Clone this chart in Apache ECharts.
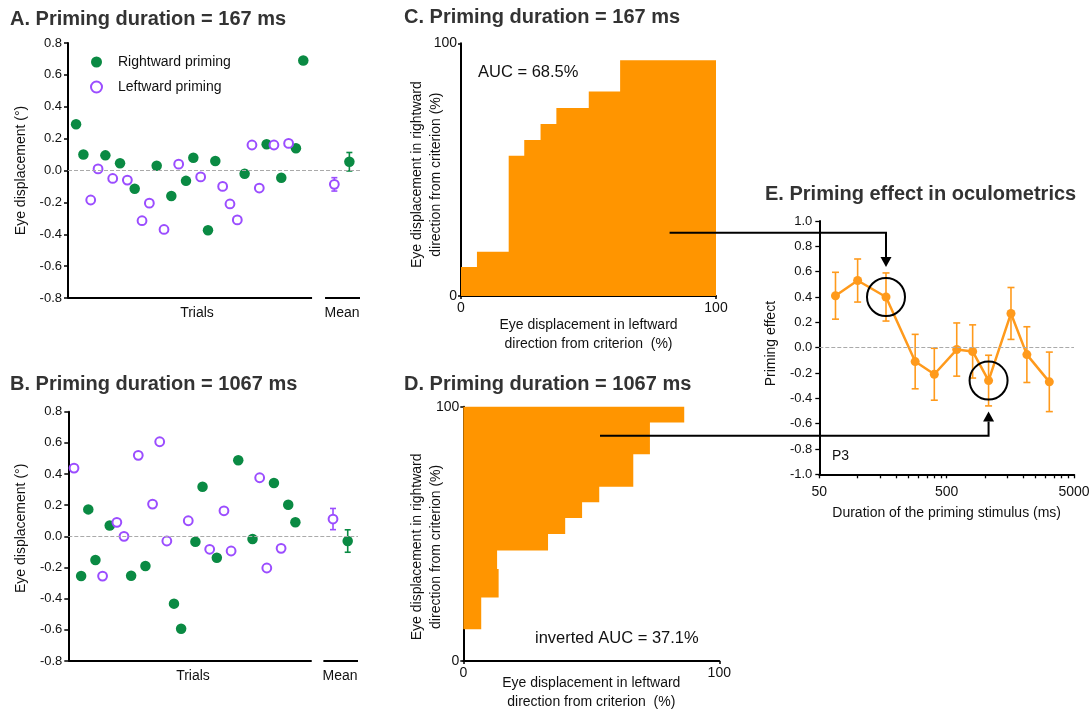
<!DOCTYPE html>
<html>
<head>
<meta charset="utf-8">
<script src="https://cdn.jsdelivr.net/npm/echarts@6/dist/echarts.min.js"></script>
<style>
  html, body { margin: 0; padding: 0; background: #ffffff; }
  #chart { width: 1091px; height: 711px; }
</style>
</head>
<body>
<div id="chart"></div>
<script>
// ---------------- Data ----------------
// A: single-trial eye displacement (deg), 167 ms priming
const trialsA_right = [0, 1, 4, 6, 8, 11, 13, 15, 16, 18, 19, 23, 26, 28, 30, 31];
const valuesA_right = [0.29, 0.10, 0.095, 0.045, -0.115, 0.03, -0.16, -0.065, 0.08, -0.375, 0.06, -0.02, 0.165, -0.045, 0.14, 0.69];
const trialsA_left = [2, 3, 5, 7, 9, 10, 12, 14, 17, 20, 21, 22, 24, 25, 27, 29];
const valuesA_left = [-0.185, 0.01, -0.05, -0.06, -0.315, -0.205, -0.37, 0.04, -0.04, -0.10, -0.21, -0.31, 0.16, -0.11, 0.16, 0.17];
const meanA = { left: -0.087, right: 0.055 };
const semA = { left: 0.042, right: 0.058 };

// B: single-trial eye displacement (deg), 1067 ms priming
const trialsB_right = [1, 2, 3, 5, 8, 10, 14, 15, 17, 18, 20, 23, 25, 28, 30, 31];
const valuesB_right = [-0.255, 0.173, -0.152, 0.07, -0.253, -0.19, -0.432, -0.593, -0.035, 0.318, -0.137, 0.488, -0.017, 0.342, 0.203, 0.09];
const trialsB_left = [0, 4, 6, 7, 9, 11, 12, 13, 16, 19, 21, 22, 26, 27, 29];
const valuesB_left = [0.438, -0.255, 0.09, 0.0, 0.52, 0.207, 0.607, -0.03, 0.10, -0.083, 0.164, -0.094, 0.376, -0.203, -0.077];
const meanB = { left: 0.111, right: -0.030 };
const semB = { left: 0.068, right: 0.072 };

// C: ROC steps, 167 ms (leftward % where each step starts, rightward % of that step)
const rocC_x = [0, 6.25, 18.7, 24.8, 31.2, 37.4, 50.1, 62.4, 100];
const rocC_y = [11.5, 17.5, 55.5, 61.7, 68.1, 74.4, 80.9, 93.3, 93.3];
const aucC = '68.5%';

// D: ROC steps, 1067 ms (rightward % band edges, leftward % reached in each band)
const rocD_yEdges = [12.5, 25.0, 36.2, 43.5, 49.9, 56.2, 62.4, 68.5, 81.3, 93.8, 100];
const rocD_x = [7.0, 13.8, 13.2, 33.1, 39.8, 46.4, 53.1, 66.4, 72.9, 86.3];
const aucD = '37.1%';

// E: priming effect vs. priming duration (ms)
const durationE = [67, 100, 167, 283, 400, 600, 800, 1067, 1600, 2133, 3200];
const effectE = [0.41, 0.53, 0.40, -0.11, -0.21, -0.015, -0.03, -0.26, 0.27, -0.055, -0.27];
const semE = [0.185, 0.17, 0.19, 0.215, 0.205, 0.21, 0.21, 0.20, 0.205, 0.22, 0.235];
const ticksE_major = [50, 500, 5000];
const ticksE_all = [50, 100, 150, 200, 250, 300, 350, 400, 450, 500,
  1000, 1500, 2000, 2500, 3000, 3500, 4000, 4500, 5000];

// ---------------- Styling ----------------
const FONT = '"Liberation Sans", Arial, Helvetica, sans-serif';
const GREEN = '#0a8a43';
const PURPLE = '#9b4dff';
const ORANGE = '#ff9500';
const ORANGE_E = '#ff9a1c';
const INK = '#111111';

// Layout of the trial panels (axis units)
const layoutA = { xMin: -1.1, xMax: 38.74, trialEnd: 32.2, meanLine: [33.97, 38.74], meanPos: { left: 35.24, right: 37.29 } };
const layoutB = { xMin: -0.8, xMax: 39.77, trialEnd: 33.29, meanLine: [34.92, 39.77], meanPos: { left: 36.27, right: 38.33 } };

const zip = (xs, ys) => xs.map((x, i) => [x, ys[i]]);

function errorBar(cap) {
  return function (params, api) {
    const x = api.value(0);
    const lo = api.coord([x, api.value(1)]);
    const hi = api.coord([x, api.value(2)]);
    const style = { stroke: api.visual('color'), lineWidth: 1.6 };
    return {
      type: 'group',
      children: [
        { type: 'line', shape: { x1: lo[0], y1: lo[1], x2: hi[0], y2: hi[1] }, style },
        { type: 'line', shape: { x1: lo[0] - cap, y1: lo[1], x2: lo[0] + cap, y2: lo[1] }, style },
        { type: 'line', shape: { x1: hi[0] - cap, y1: hi[1], x2: hi[0] + cap, y2: hi[1] }, style }
      ]
    };
  };
}

function hiddenX(gridIndex, min, max) {
  return {
    gridIndex, type: 'value', min, max,
    axisLine: { show: false }, axisTick: { show: false },
    axisLabel: { show: false }, splitLine: { show: false }
  };
}

function eyeY(gridIndex, namePad) {
  return {
    gridIndex, type: 'value', min: -0.8, max: 0.8, interval: 0.2,
    name: 'Eye displacement (°)', nameLocation: 'middle', nameGap: 40,
    nameTextStyle: { color: INK, fontSize: 14, fontFamily: FONT, padding: namePad },
    axisLine: { show: true, onZero: false, lineStyle: { color: '#000', width: 2 } },
    axisTick: { show: true, length: 4, lineStyle: { color: '#000', width: 1.5 } },
    axisLabel: { color: INK, fontSize: 13, fontFamily: FONT, margin: 6, formatter: v => v.toFixed(1) },
    splitLine: { show: false }
  };
}

function rocAxis(gridIndex, isX, name, nameGap, namePad, freeName) {
  const axis = {
    gridIndex, type: 'value', min: 0, max: 100, interval: 100,
    name, nameLocation: 'middle', nameGap,
    nameTextStyle: { color: INK, fontSize: 14, fontFamily: FONT, lineHeight: 19, padding: namePad },
    axisLine: { show: true, onZero: false, lineStyle: { color: '#000', width: 2 } },
    axisTick: { show: true, length: 3, lineStyle: { color: '#000', width: 1.5 } },
    axisLabel: { color: INK, fontSize: 14, fontFamily: FONT, margin: isX ? 5 : 4 },
    splitLine: { show: false }
  };
  if (freeName) axis.nameMoveOverlap = false;
  return axis;
}

function bottomLines(layout) {
  const solid = { color: '#000', width: 2, type: 'solid' };
  return {
    silent: true, symbol: ['none', 'none'], label: { show: false },
    data: [
      { yAxis: 0, lineStyle: { color: '#aaaaaa', width: 1, type: 'dashed' } },
      [{ coord: [layout.xMin, -0.8], lineStyle: solid }, { coord: [layout.trialEnd, -0.8] }],
      [{ coord: [layout.meanLine[0], -0.8], lineStyle: solid }, { coord: [layout.meanLine[1], -0.8] }]
    ]
  };
}

const openStyle = { color: '#ffffff', borderColor: PURPLE, borderWidth: 2, opacity: 1 };
const filledStyle = { color: GREEN, opacity: 1 };

function trialSeries(gIdx, tr, vr, tl, vl, mean, sem, layout) {
  return [
    {
      name: 'Rightward priming', type: 'scatter', xAxisIndex: gIdx, yAxisIndex: gIdx,
      symbol: 'circle', symbolSize: 10.5, itemStyle: filledStyle,
      data: zip(tr, vr), z: 3, markLine: bottomLines(layout)
    },
    {
      name: 'Leftward priming', type: 'scatter', xAxisIndex: gIdx, yAxisIndex: gIdx,
      symbol: 'circle', symbolSize: 8.8, itemStyle: openStyle,
      data: zip(tl, vl), z: 3
    },
    {
      name: 'Leftward priming', type: 'custom', xAxisIndex: gIdx, yAxisIndex: gIdx,
      itemStyle: { color: PURPLE }, renderItem: errorBar(3), encode: { x: 0, y: [1, 2] },
      data: [[layout.meanPos.left, mean.left - sem.left, mean.left + sem.left]], z: 2
    },
    {
      name: 'Rightward priming', type: 'custom', xAxisIndex: gIdx, yAxisIndex: gIdx,
      itemStyle: { color: GREEN }, renderItem: errorBar(3), encode: { x: 0, y: [1, 2] },
      data: [[layout.meanPos.right, mean.right - sem.right, mean.right + sem.right]], z: 2
    },
    {
      name: 'Leftward priming', type: 'scatter', xAxisIndex: gIdx, yAxisIndex: gIdx,
      symbol: 'circle', symbolSize: 8.8, itemStyle: openStyle,
      data: [[layout.meanPos.left, mean.left]], z: 4
    },
    {
      name: 'Rightward priming', type: 'scatter', xAxisIndex: gIdx, yAxisIndex: gIdx,
      symbol: 'circle', symbolSize: 10.5, itemStyle: filledStyle,
      data: [[layout.meanPos.right, mean.right]], z: 4
    }
  ];
}

// D: filled region left of the step curve, traced through the axes
function rocDRegion(params, api) {
  const pts = [api.coord([0, rocD_yEdges[0]])];
  for (let i = 0; i < rocD_x.length; i++) {
    pts.push(api.coord([rocD_x[i], rocD_yEdges[i]]));
    pts.push(api.coord([rocD_x[i], rocD_yEdges[i + 1]]));
  }
  pts.push(api.coord([0, rocD_yEdges[rocD_yEdges.length - 1]]));
  return { type: 'polygon', shape: { points: pts }, style: { fill: ORANGE } };
}

const titleStyle = { fontSize: 20, fontWeight: 'bold', color: '#333333', fontFamily: FONT };

const option = {
  animation: false,
  backgroundColor: '#ffffff',
  textStyle: { fontFamily: FONT },
  title: [
    { text: 'A. Priming duration = 167 ms', left: 10, top: 9, padding: 0, textStyle: titleStyle },
    { text: 'B. Priming duration = 1067 ms', left: 10, top: 374, padding: 0, textStyle: titleStyle },
    { text: 'C. Priming duration = 167 ms', left: 404, top: 7, padding: 0, textStyle: titleStyle },
    { text: 'D. Priming duration = 1067 ms', left: 404, top: 374, padding: 0, textStyle: titleStyle },
    { text: 'E. Priming effect in oculometrics', left: 765, top: 184, padding: 0, textStyle: titleStyle }
  ],
  legend: {
    data: ['Rightward priming', 'Leftward priming'],
    orient: 'vertical', left: 85, top: 50,
    itemWidth: 33, itemHeight: 11, itemGap: 11,
    textStyle: { color: INK, fontSize: 14, fontFamily: FONT }
  },
  grid: [
    { left: 68, top: 43, width: 292, height: 255, outerBoundsMode: 'none' },
    { left: 68.3, top: 411.7, width: 289.7, height: 249.3, outerBoundsMode: 'none' },
    { left: 461, top: 43.3, width: 255, height: 252.7, outerBoundsMode: 'none' },
    { left: 463.3, top: 406.7, width: 256, height: 254.3, outerBoundsMode: 'none' },
    { left: 819.3, top: 221, width: 254.7, height: 253.3, outerBoundsMode: 'none' }
  ],
  xAxis: [
    hiddenX(0, layoutA.xMin, layoutA.xMax),
    hiddenX(1, layoutB.xMin, layoutB.xMax),
    rocAxis(2, true, 'Eye displacement in leftward\ndirection from criterion  (%)', 18, 0),
    rocAxis(3, true, 'Eye displacement in leftward\ndirection from criterion  (%)', 13, 0, true),
    {
      gridIndex: 4, type: 'log', logBase: 10, min: 50, max: 5000,
      name: 'Duration of the priming stimulus (ms)', nameLocation: 'middle', nameGap: 32,
      nameTextStyle: { color: INK, fontSize: 14, fontFamily: FONT },
      axisLine: { show: true, onZero: false, lineStyle: { color: '#000', width: 2 } },
      axisTick: { show: true, length: 4, customValues: ticksE_all, lineStyle: { color: '#000', width: 1.3 } },
      axisLabel: { color: INK, fontSize: 14, fontFamily: FONT, margin: 11, customValues: ticksE_major,
        formatter: v => String(Math.round(v)) },
      minorTick: { show: false },
      splitLine: { show: false }
    }
  ],
  yAxis: [
    eyeY(0, 0),
    eyeY(1, [0, 0, 0, 16]),
    rocAxis(2, false, 'Eye displacement in rightward\ndirection from criterion (%)', 15, [0, 10, 0, 0], true),
    rocAxis(3, false, 'Eye displacement in rightward\ndirection from criterion (%)', 18, [0, 26, 0, 0], true),
    {
      gridIndex: 4, type: 'value', min: -1, max: 1, interval: 0.2,
      name: 'Priming effect', nameLocation: 'middle', nameGap: 41,
      nameTextStyle: { color: INK, fontSize: 14, fontFamily: FONT, padding: [0, 0, 0, 8] },
      axisLine: { show: true, onZero: false, lineStyle: { color: '#000', width: 2 } },
      axisTick: { show: true, length: 4, lineStyle: { color: '#000', width: 1.3 } },
      axisLabel: { color: INK, fontSize: 13, fontFamily: FONT, margin: 7, formatter: v => v.toFixed(1) },
      splitLine: { show: false }
    }
  ],
  series: [
    ...trialSeries(0, trialsA_right, valuesA_right, trialsA_left, valuesA_left, meanA, semA, layoutA),
    ...trialSeries(1, trialsB_right, valuesB_right, trialsB_left, valuesB_left, meanB, semB, layoutB),
    {
      name: 'ROC 167 ms', type: 'line', xAxisIndex: 2, yAxisIndex: 2,
      step: 'end', symbol: 'none', data: zip(rocC_x, rocC_y),
      lineStyle: { width: 0, color: ORANGE }, areaStyle: { color: ORANGE, opacity: 1 }, z: 1
    },
    {
      name: 'ROC 1067 ms', type: 'custom', xAxisIndex: 3, yAxisIndex: 3,
      renderItem: rocDRegion, data: [[0, 0]], z: 1
    },
    {
      name: 'Priming effect error', type: 'custom', xAxisIndex: 4, yAxisIndex: 4,
      itemStyle: { color: ORANGE_E }, renderItem: errorBar(3.5), encode: { x: 0, y: [1, 2] },
      data: durationE.map((d, i) => [d, effectE[i] - semE[i], effectE[i] + semE[i]]), z: 2
    },
    {
      name: 'Priming effect', type: 'line', xAxisIndex: 4, yAxisIndex: 4,
      data: zip(durationE, effectE), symbol: 'circle', symbolSize: 9,
      itemStyle: { color: ORANGE_E, opacity: 1 }, lineStyle: { color: ORANGE_E, width: 2.5 }, z: 3,
      markLine: {
        silent: true, symbol: ['none', 'none'], label: { show: false },
        data: [{ yAxis: 0, lineStyle: { color: '#aaaaaa', width: 1, type: 'dashed' } }]
      }
    }
  ]
};

const chart = echarts.init(document.getElementById('chart'));
chart.setOption(option);

// ---------------- Annotations ----------------
function label(text, x, y, size, align) {
  return {
    type: 'text', x, y, silent: true,
    style: {
      text, fill: INK, font: size + 'px ' + FONT,
      align: align || 'center', textAlign: align || 'center',
      verticalAlign: 'middle', textVerticalAlign: 'middle'
    }
  };
}

const R = 19;
const c1 = chart.convertToPixel({ gridIndex: 4 }, [durationE[2], effectE[2]]);
const c2 = chart.convertToPixel({ gridIndex: 4 }, [durationE[7], effectE[7]]);
const s1 = chart.convertToPixel({ gridIndex: 2 }, [81.8, 25]);
const s2 = chart.convertToPixel({ gridIndex: 3 }, [53.4, 88.6]);
const tip1 = c1[1] - R - 11;
const tip2 = c2[1] + R + 12;
const lineStyle = { stroke: '#000', lineWidth: 2, fill: 'none' };

chart.setOption({
  graphic: [
    label('Trials', 197, 313, 14),
    label('Mean', 342, 313, 14),
    label('Trials', 193, 676, 14),
    label('Mean', 340, 676, 14),
    label('AUC = ' + aucC, 478, 72, 16.5, 'left'),
    label('inverted AUC = ' + aucD, 535, 638, 16.5, 'left'),
    label('P3', 832, 456, 14, 'left'),
    { type: 'polyline', silent: true, z: 10,
      shape: { points: [[s1[0], s1[1]], [c1[0], s1[1]], [c1[0], tip1 - 10]] }, style: lineStyle },
    { type: 'polygon', silent: true, z: 10,
      shape: { points: [[c1[0] - 5.5, tip1 - 10], [c1[0] + 5.5, tip1 - 10], [c1[0], tip1]] },
      style: { fill: '#000' } },
    { type: 'circle', silent: true, z: 10, shape: { cx: c1[0], cy: c1[1], r: R }, style: lineStyle },
    { type: 'polyline', silent: true, z: 10,
      shape: { points: [[s2[0], s2[1]], [c2[0], s2[1]], [c2[0], tip2 + 10]] }, style: lineStyle },
    { type: 'polygon', silent: true, z: 10,
      shape: { points: [[c2[0] - 5.5, tip2 + 10], [c2[0] + 5.5, tip2 + 10], [c2[0], tip2]] },
      style: { fill: '#000' } },
    { type: 'circle', silent: true, z: 10, shape: { cx: c2[0], cy: c2[1], r: R }, style: lineStyle }
  ]
});
</script>
</body>
</html>
